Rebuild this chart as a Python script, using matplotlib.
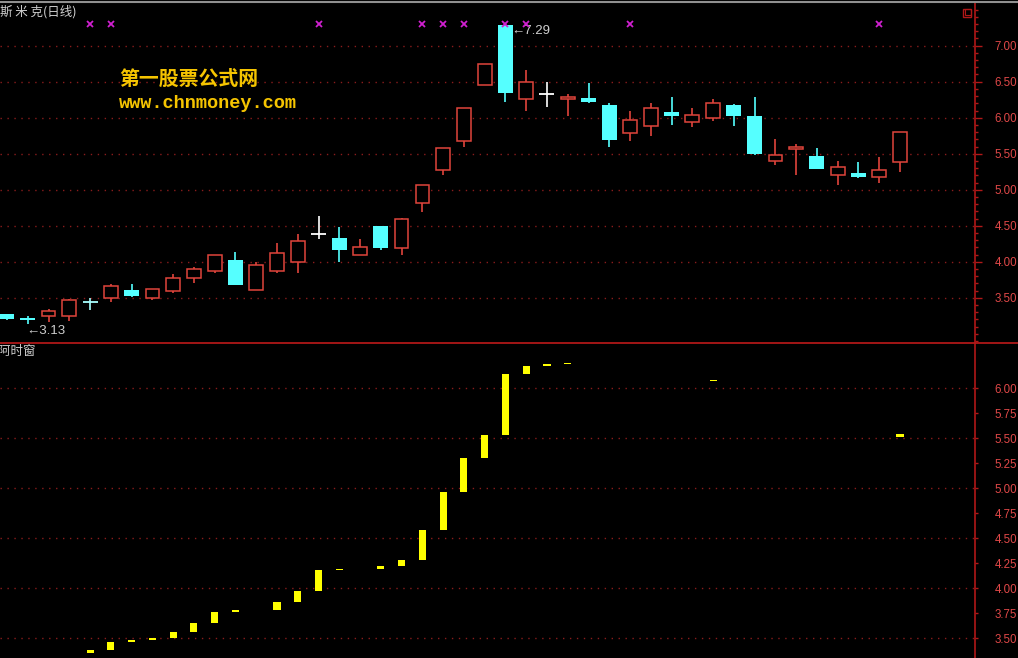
import numpy as np
import matplotlib
matplotlib.use("Agg")
import matplotlib.pyplot as plt
from matplotlib.lines import Line2D
from matplotlib.patches import Rectangle
from matplotlib.ticker import MultipleLocator, FormatStrFormatter
import matplotlib.transforms as mtrans

plt.rcParams['font.family'] = ['Noto Sans CJK SC', 'DejaVu Sans']

# ---------------- data ----------------
opens = [3.28, 3.22, 3.24, 3.24, 3.45, 3.49, 3.61, 3.50, 3.59, 3.77, 3.87, 4.02, 3.61, 3.87, 4.00,
         4.38, 4.33, 4.09, 4.49, 4.19, 4.81, 5.27, 5.68, 6.46, 7.29, 6.26, 6.33, 6.26, 6.28, 6.17,
         5.79, 5.89, 6.08, 5.94, 6.00, 6.17, 6.03, 5.40, 5.57, 5.47, 5.20, 5.23, 5.18, 5.39]
closes = [3.20, 3.19, 3.32, 3.47, 3.44, 3.66, 3.52, 3.62, 3.77, 3.90, 4.09, 3.68, 3.95, 4.12, 4.29,
          4.38, 4.16, 4.20, 4.19, 4.60, 5.07, 5.58, 6.13, 6.74, 6.35, 6.49, 6.33, 6.29, 6.22, 5.69,
          5.97, 6.13, 6.03, 6.04, 6.20, 6.03, 5.50, 5.48, 5.59, 5.29, 5.31, 5.18, 5.27, 5.80]
highs = [3.28, 3.24, 3.34, 3.48, 3.50, 3.69, 3.69, 3.62, 3.83, 3.93, 4.09, 4.13, 3.99, 4.26, 4.38,
         4.64, 4.48, 4.31, 4.50, 4.61, 5.07, 5.58, 6.13, 6.74, 7.29, 6.66, 6.49, 6.33, 6.48, 6.20,
         6.10, 6.20, 6.29, 6.13, 6.26, 6.19, 6.29, 5.70, 5.63, 5.58, 5.40, 5.39, 5.46, 5.80]
lows = [3.19, 3.13, 3.16, 3.18, 3.33, 3.44, 3.51, 3.47, 3.56, 3.70, 3.84, 3.67, 3.61, 3.85, 3.85,
        4.32, 3.99, 4.09, 4.16, 4.09, 4.69, 5.21, 5.60, 6.46, 6.22, 6.10, 6.15, 6.02, 6.20, 5.60,
        5.68, 5.74, 5.90, 5.87, 5.96, 5.89, 5.48, 5.34, 5.21, 5.29, 5.06, 5.16, 5.10, 5.24]

nan = np.nan
# "阿时窗" window bars (bottom, top) per candle
win_low = [nan, nan, nan, nan, 3.35, 3.38, 3.46, 3.48, 3.50, 3.56, 3.65, 3.76, nan, 3.78, 3.86,
           3.97, 4.18, nan, 4.19, 4.22, 4.28, 4.58, 4.96, 5.30, 5.53, 6.14, 6.22, 6.24, nan, nan,
           nan, nan, nan, nan, 6.07, nan, nan, nan, nan, nan, nan, nan, nan, 5.51]
win_high = [nan, nan, nan, nan, 3.38, 3.46, 3.48, 3.50, 3.56, 3.65, 3.76, 3.78, nan, 3.86, 3.97,
            4.18, 4.19, nan, 4.22, 4.28, 4.58, 4.96, 5.30, 5.53, 6.14, 6.22, 6.24, 6.25, nan, nan,
            nan, nan, nan, nan, 6.08, nan, nan, nan, nan, nan, nan, nan, nan, 5.54]

signal_idx = [4, 5, 15, 20, 21, 22, 24, 25, 30, 42]

top_ticks = [3.5, 4.0, 4.5, 5.0, 5.5, 6.0, 6.5, 7.0]
bot_ticks = [3.5, 3.75, 4.0, 4.25, 4.5, 4.75, 5.0, 5.25, 5.5, 5.75, 6.0]

title_top = "斯 米 克(日线)"
title_bot = "阿时窗"
wm1 = "第一股票公式网"
wm2 = "www.chnmoney.com"

# ---------------- style ----------------
W, H = 1018, 658
RED = '#e0443c'
CYAN = '#55ffff'
GRID = '#8a1c1c'
AXRED = '#b01818'
LABRED = '#e04848'
TXT = '#cfcfcf'

fig = plt.figure(figsize=(W / 100, H / 100), dpi=100, facecolor='black')

sep = 343
ax1 = fig.add_axes([0, 1 - sep / H, 975 / W, (sep - 3) / H], facecolor='black')
ax2 = fig.add_axes([0, 0, 975 / W, (H - sep) / H], facecolor='black')

x = np.arange(len(opens))
xlim = (-0.337, 46.61)

for ax in (ax1, ax2):
    ax.set_xlim(*xlim)
    for s in ('top', 'bottom', 'left'):
        ax.spines[s].set_visible(False)
    ax.spines['right'].set_color(AXRED)
    ax.spines['right'].set_linewidth(1.2)
    ax.yaxis.tick_right()
    ax.tick_params(axis='x', bottom=False, labelbottom=False)
    ax.tick_params(axis='y', which='major', colors=AXRED, labelcolor=LABRED,
                   labelsize=8.3, length=5, width=1, pad=9)
    ax.tick_params(axis='y', which='minor', colors=AXRED, length=2.5, width=1)

ax1.set_ylim(2.871, 7.593)
ax2.set_ylim(3.303, 6.453)

ax1.set_yticks(top_ticks)
ax1.yaxis.set_major_formatter(FormatStrFormatter('%.2f'))
ax1.yaxis.set_minor_locator(MultipleLocator(0.1))

ax2.set_yticks(bot_ticks)
ax2.yaxis.set_major_formatter(FormatStrFormatter('%.2f'))
ax2.tick_params(axis='y', which='major', length=2.5, pad=11.5)
ax2.yaxis.set_minor_locator(MultipleLocator(0.5))
ax2.tick_params(axis='y', which='minor', length=5)

for ax in (ax1, ax2):
    for lab in ax.get_yticklabels():
        lab.set_family(['Liberation Sans', 'DejaVu Sans'])

# grid lines
for v in top_ticks:
    ax1.axhline(v, color=GRID, lw=1, ls=(0, (1, 4)), zorder=0)
for v in [3.5, 4.0, 4.5, 5.0, 5.5, 6.0]:
    ax2.axhline(v, color=GRID, lw=1, ls=(0, (1, 4)), zorder=0)

# ---------------- candles ----------------
for i, o, c, h, l in zip(x, opens, closes, highs, lows):
    if abs(c - o) < 0.015:
        col = 'white' if c == o else (RED if c > o else '#a8ffff')
        ax1.vlines(i, l, h, color=col, lw=1.2, zorder=2)
        ax1.hlines((o + c) / 2, i - 0.36, i + 0.36, color=col, lw=1.3, zorder=3)
    elif c > o:
        ax1.vlines(i, l, h, color=RED, lw=1.2, zorder=2)
        ax1.bar(i, c - o, bottom=o, width=0.66, facecolor='black', edgecolor=RED,
                linewidth=1.1, zorder=3)
    else:
        ax1.vlines(i, l, h, color=CYAN, lw=1.2, zorder=2)
        ax1.bar(i, o - c, bottom=c, width=0.72, facecolor=CYAN, edgecolor='none', zorder=3)

# signal markers on top row
trans = mtrans.blended_transform_factory(ax1.transData, ax1.transAxes)
ax1.plot(signal_idx, [1 - 21 / 340] * len(signal_idx), ls='none', marker='x',
         ms=4, mew=1.3, color='#d020d0', transform=trans, zorder=5)

# high / low annotations
imax = int(np.argmax(highs))
imin = int(np.argmin(lows))
ax1.annotate("←%.2f" % highs[imax], xy=(imax, highs[imax]), xytext=(4.5, -4.5),
             textcoords='offset points', ha='left', va='center', color=TXT, fontsize=9.5,
             family=['Liberation Sans', 'DejaVu Sans'], zorder=2)
ax1.annotate("←%.2f" % lows[imin], xy=(imin, lows[imin]), xytext=(-1, -0.5),
             textcoords='offset points', ha='left', va='top', color=TXT, fontsize=9.5,
             family=['Liberation Sans', 'DejaVu Sans'], zorder=2)

# ---------------- bottom bars ----------------
wl = np.array(win_low, dtype=float)
wh = np.array(win_high, dtype=float)
m = ~np.isnan(wl)
hts = np.maximum(wh[m] - wl[m], 0.012)
ax2.bar(x[m], hts, bottom=wl[m], width=0.34, color='#ffff00', edgecolor='none', zorder=3)

# ---------------- texts / decorations ----------------
fig.text(0 / W, 1 - 12 / H, title_top, color=TXT, fontsize=9, va='center', ha='left',
         family=['Noto Sans CJK SC', 'DejaVu Sans'])
fig.text(-2 / W, 1 - 352 / H, title_bot, color=TXT, fontsize=9, va='center', ha='left',
         family=['Noto Sans CJK SC', 'DejaVu Sans'])
fig.text(119 / W, 1 - 78 / H, wm1, color='#f5c400', fontsize=14.3, fontweight='bold',
         va='center', ha='left', family=['Noto Sans CJK SC', 'DejaVu Sans'])
fig.text(119 / W, 1 - 104 / H, wm2, color='#f5c400', fontsize=13.4, fontweight='bold',
         va='center', ha='left', family=['Liberation Mono', 'DejaVu Sans Mono'])

# separator line and top border
fig.add_artist(Line2D([0, 1], [1 - sep / H] * 2, transform=fig.transFigure,
                      color=AXRED, lw=1.3))
fig.add_artist(Line2D([0, 1], [1 - 1.5 / H] * 2, transform=fig.transFigure,
                      color='#909090', lw=1.5))
# small window icon at top right
fig.add_artist(Rectangle((963 / W, 1 - 17 / H), 8 / W, 8 / H, transform=fig.transFigure,
                         fill=False, edgecolor=AXRED, lw=1))
fig.add_artist(Rectangle((965 / W, 1 - 15 / H), 6 / W, 6 / H, transform=fig.transFigure,
                         fill=False, edgecolor=AXRED, lw=0.8))

fig.savefig('out.png', dpi=100, facecolor='black')
